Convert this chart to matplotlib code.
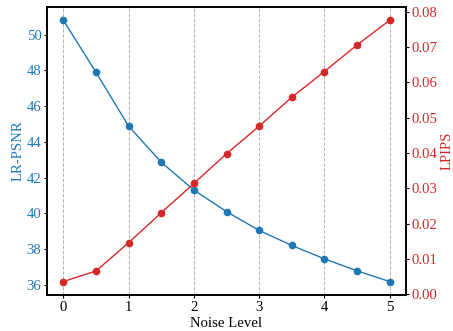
import matplotlib
matplotlib.use("Agg")
import matplotlib.pyplot as plt

noise_levels = [0, 0.5, 1, 1.5, 2, 2.5, 3, 3.5, 4, 4.5, 5]
lr_psnr = [50.80, 47.89, 44.88, 42.86, 41.31, 40.10, 39.05, 38.21, 37.46, 36.79, 36.19]
lpips = [0.0036, 0.0066, 0.0146, 0.0231, 0.0314, 0.0398, 0.0476, 0.0558, 0.0631, 0.0706, 0.0776]
psnr_ticks = [36, 38, 40, 42, 44, 46, 48, 50]
lpips_ticks = [0.0, 0.01, 0.02, 0.03, 0.04, 0.05, 0.06, 0.07, 0.08]

plt.rcParams['font.family'] = ['Liberation Serif', 'DejaVu Serif']
plt.rcParams['font.size'] = 10.6
plt.rcParams['axes.linewidth'] = 1.2

blue = '#1f77b4'
red = '#d62728'

fig = plt.figure(figsize=(4.53, 3.31), dpi=100)
ax1 = fig.add_axes([0.104, 0.110, 0.792, 0.868])
ax1.plot(noise_levels, lr_psnr, color=blue, marker='o', markersize=4.5, linewidth=1)
ax1.set_xlabel('Noise Level', labelpad=2)
ax1.set_ylabel('LR-PSNR', color=blue)
ax1.yaxis.set_label_coords(-0.064, 0.5)
ax1.set_yticks(psnr_ticks)
ax1.tick_params(axis='y', labelcolor=blue, pad=1.5, length=2.5)
ax1.tick_params(axis='x', pad=2, length=2.5)
ax1.set_xticks([0, 1, 2, 3, 4, 5])
ax1.grid(True, axis='x', linestyle='--', color='gray', alpha=0.6, linewidth=0.7)

ax2 = ax1.twinx()
ax2.plot(noise_levels, lpips, color=red, marker='o', markersize=4.5, linewidth=1)
ax2.set_ylabel('LPIPS', color=red, rotation=90)
ax2.yaxis.set_label_coords(1.097, 0.5)
ax2.tick_params(axis='y', labelcolor=red, pad=1.5, length=2.5)
ax2.set_yticks(lpips_ticks)
ax2.set_yticklabels(['%.2f' % v for v in lpips_ticks])

fig.savefig('out.png', dpi=100)
